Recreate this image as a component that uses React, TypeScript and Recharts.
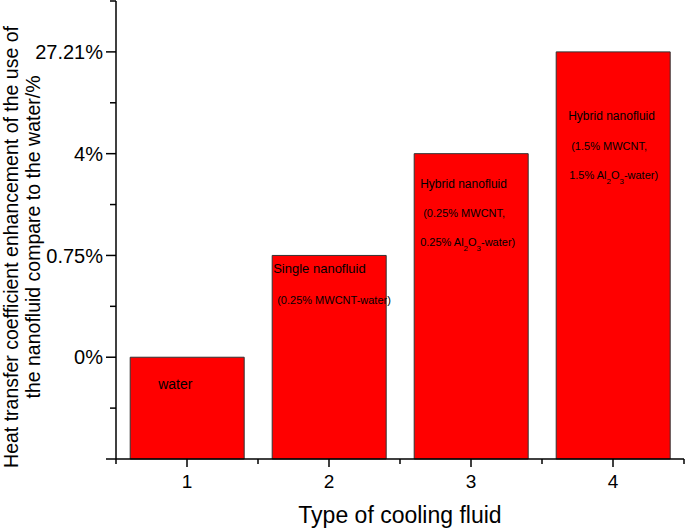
import React from "react";
import { BarChart, Bar, XAxis, YAxis, LabelList, Label } from "recharts";

// categories on the x axis
const fluidTypes = ["1", "2", "3", "4"];
// the y axis is ordinal: each bar sits on one tick level
const enhancementLevel = [1, 2, 3, 4];
const yTickLabels = ["0%", "0.75%", "4%", "27.21%"];
// notes written inside each bar ("_2" = subscript 2)
const barNotes = [
  ["water"],
  ["Single nanofluid", "(0.25% MWCNT-water)"],
  ["Hybrid nanofluid", "(0.25% MWCNT,", "0.25% Al_2O_3-water)"],
  ["Hybrid nanofluid", "(1.5% MWCNT,", "1.5% Al_2O_3-water)"],
];
const yTitleLines = [
  "Heat transfer coefficient enhancement of the use of",
  "the nanofluid compare to the water/%",
];

const data = fluidTypes.map((f, i) => ({ fluid: f, level: enhancementLevel[i] }));

const FONT = "'Liberation Sans', Arial, Helvetica, sans-serif";

// placement of each note line relative to the bar's top-left corner: [dx, dy, fontSize]
const noteLayout = [
  [[28, 32, 14]],
  [[1, 18, 13], [5, 49, 11]],
  [[6, 34, 12], [9, 63, 11], [6, 92, 11]],
  [[12, 68, 12], [15, 98, 11], [13, 127, 11]],
];

function richLine(line: string, fs: number) {
  const parts = line.split(/_(\d)/);
  const out: React.ReactNode[] = [];
  let shifted = false;
  parts.forEach((p, i) => {
    if (!p) return;
    if (i % 2 === 1) {
      out.push(
        <tspan key={i} dy={shifted ? 0 : 5} fontSize={fs * 0.72}>
          {p}
        </tspan>
      );
      shifted = true;
    } else {
      out.push(
        <tspan key={i} dy={shifted ? -5 : 0}>
          {p}
        </tspan>
      );
      shifted = false;
    }
  });
  return out;
}

function BarNote(props: any) {
  const { x, y, index } = props;
  const lines = barNotes[index] || [];
  const lay = noteLayout[index] || [];
  return (
    <g>
      {lines.map((ln, k) => (
        <text
          key={k}
          x={x + lay[k][0]}
          y={y + lay[k][1]}
          fontSize={lay[k][2]}
          fill="#000"
          fontFamily={FONT}
        >
          {richLine(ln, lay[k][2])}
        </text>
      ))}
    </g>
  );
}

function YTick(props: any) {
  const { x, y, payload } = props;
  const v = payload.value;
  const major = Number.isInteger(v);
  const label = major && v >= 1 ? yTickLabels[v - 1] : "";
  return (
    <g>
      <line x1={x} x2={x - (major ? 10 : 6)} y1={y} y2={y} stroke="#000" strokeWidth={1.5} />
      {label && (
        <text x={x - 13} y={y} dy="0.36em" textAnchor="end" fontSize={20} fill="#000" fontFamily={FONT}>
          {label}
        </text>
      )}
    </g>
  );
}

function XTick(props: any) {
  const { x, y, payload, index } = props;
  const half = payload.offset || 71;
  const last = index === fluidTypes.length - 1;
  return (
    <g>
      <line x1={x} x2={x} y1={y} y2={y + 8} stroke="#000" strokeWidth={1.5} />
      <line x1={x - half} x2={x - half} y1={y} y2={y + 5} stroke="#000" strokeWidth={1.5} />
      {last && <line x1={x + half} x2={x + half} y1={y} y2={y + 5} stroke="#000" strokeWidth={1.5} />}
      <text x={x} y={y + 29} textAnchor="middle" fontSize={19} fill="#000" fontFamily={FONT}>
        {payload.value}
      </text>
    </g>
  );
}

// two rotated lines: [baseline x, centre y]
const yTitleLayout = [
  [18, 247],
  [40, 237],
];

function YTitle() {
  return (
    <g>
      {yTitleLines.map((l, i) => {
        const [x, cy] = yTitleLayout[i];
        return (
          <text
            key={i}
            x={x}
            y={cy}
            transform={`rotate(-90, ${x}, ${cy})`}
            textAnchor="middle"
            fontSize={19.5}
            fill="#000"
            fontFamily={FONT}
          >
            {l}
          </text>
        );
      })}
    </g>
  );
}

function XTitle(props: any) {
  const vb = props.viewBox || {};
  return (
    <text
      x={vb.x + vb.width / 2}
      y={523}
      textAnchor="middle"
      fontSize={23}
      fill="#000"
      fontFamily={FONT}
    >
      Type of cooling fluid
    </text>
  );
}

export default function App() {
  return (
    <div style={{ position: "absolute", left: 0, top: 0, background: "#fff", fontFamily: FONT }}>
      <BarChart
        width={685}
        height={530}
        data={data}
        margin={{ top: 1, right: 1, left: 0, bottom: 0 }}
        barCategoryGap="10%"
      >
        <XAxis
          dataKey="fluid"
          height={71}
          tickSize={0}
          tickMargin={0}
          tickLine={false}
          axisLine={{ stroke: "#000", strokeWidth: 1.5 }}
          tick={<XTick />}
          interval={0}
        >
          <Label content={<XTitle />} />
        </XAxis>
        <XAxis
          xAxisId="top"
          dataKey="fluid"
          orientation="top"
          height={0}
          tick={false}
          tickLine={false}
          axisLine={{ stroke: "#000", strokeWidth: 1.5 }}
        />
        <YAxis
          type="number"
          domain={[0, 4.5]}
          ticks={[0, 0.5, 1, 1.5, 2, 2.5, 3, 3.5, 4, 4.5]}
          width={116}
          tickSize={0}
          tickMargin={0}
          tickLine={false}
          axisLine={{ stroke: "#000", strokeWidth: 1.5 }}
          tick={<YTick />}
          interval={0}
        >
          <Label content={<YTitle />} />
        </YAxis>
        <YAxis
          yAxisId="right"
          orientation="right"
          type="number"
          domain={[0, 4.5]}
          width={0}
          tick={false}
          tickLine={false}
          axisLine={{ stroke: "#000", strokeWidth: 1.5 }}
        />
        <Bar dataKey="level" fill="#ff0000" stroke="#333" strokeWidth={1} isAnimationActive={false}>
          <LabelList dataKey="level" content={<BarNote />} />
        </Bar>
      </BarChart>
    </div>
  );
}
